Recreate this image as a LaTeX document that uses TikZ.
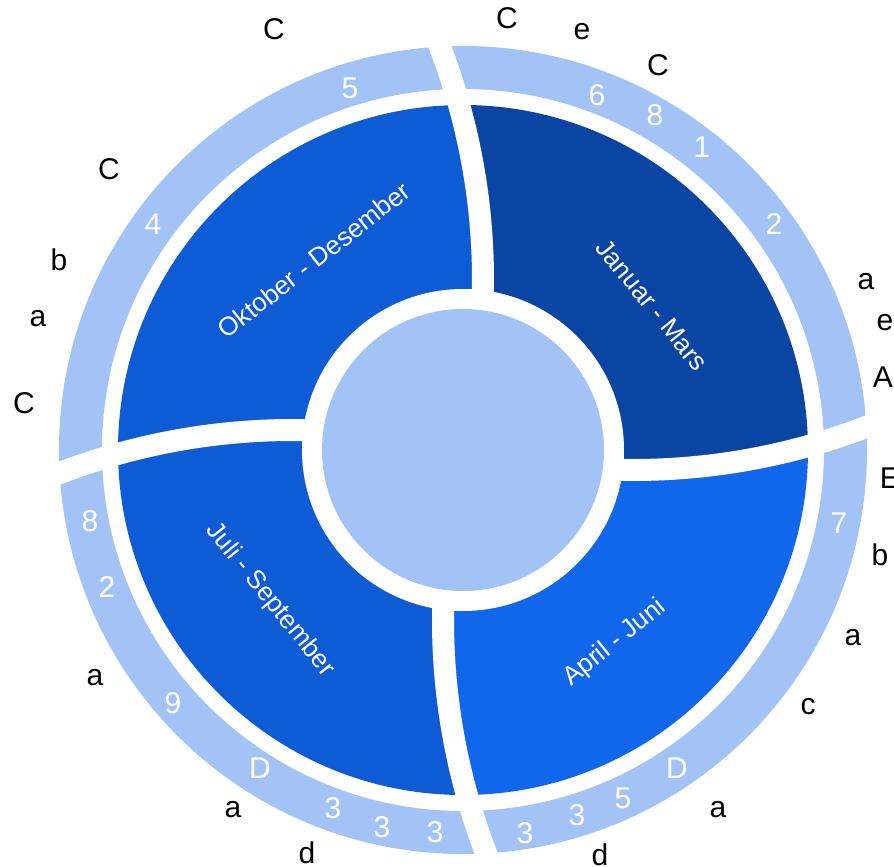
\documentclass[tikz,border=0pt]{standalone}
\usepackage{fontspec}
\setmainfont{Liberation Sans}
\usepackage{xcolor}
\usepackage{tikz}
\definecolor{yrlight}{RGB}{163,195,247}
\definecolor{yrdark}{RGB}{11,69,163}
\definecolor{yrmid}{RGB}{14,91,214}
\definecolor{yrbright}{RGB}{16,103,236}

\begin{document}
\begin{tikzpicture}[
  x=0.5pt,
  y=0.5pt,
  quarterclip/.style={
    insert path={
      (0,0) -- (19.7,150)
      arc[start angle=-1.75, end angle=22.5, radius=653]
      -- (-40,600) -- (600,600) -- (600,40) -- (420,29.8)
      arc[start angle=-67.5, end angle=-91.75, radius=653]
      -- cycle
    }
  },
  gap/.style={
    draw=white,
    line width=11pt
  },
  seclabel/.style={
    text=white,
    font=\fontsize{13}{15}\selectfont,
    inner sep=0pt
  },
  ringnum/.style={
    text=white,
    font=\fontsize{15}{18}\selectfont,
    inner sep=0pt
  },
  outlbl/.style={
    text=black,
    font=\fontsize{15}{18}\selectfont,
    inner sep=0pt
  }
]

\useasboundingbox (-463,-417) rectangle (431,450);

\fill[yrlight, even odd rule] (0,0) circle[radius=404] circle[radius=361];

\begin{scope}
  \clip[quarterclip];
  \fill[yrdark] (0,0) circle[radius=345];
\end{scope}
\begin{scope}[rotate=-90]
  \clip[quarterclip];
  \fill[yrbright] (0,0) circle[radius=345];
\end{scope}
\begin{scope}[rotate=-180]
  \clip[quarterclip];
  \fill[yrmid] (0,0) circle[radius=345];
\end{scope}
\begin{scope}[rotate=-270]
  \clip[quarterclip];
  \fill[yrmid] (0,0) circle[radius=345];
\end{scope}

\draw[gap] (-633,170) ++(-3:653) arc[start angle=-3, end angle=24, radius=653];
\draw[gap, rotate=-90] (-633,170) ++(-3:653) arc[start angle=-3, end angle=24, radius=653];
\draw[gap, rotate=-180] (-633,170) ++(-3:653) arc[start angle=-3, end angle=24, radius=653];
\draw[gap, rotate=-270] (-633,170) ++(-3:653) arc[start angle=-3, end angle=24, radius=653];

\fill[white] (0,0) circle[radius=161];
\node[circle, fill=yrlight, minimum size=141pt, inner sep=0pt] (hub) at (0,0) {};

\node[seclabel, rotate=-51] (jan) at (189,145) {Januar - Mars};
\node[seclabel, rotate=39] (apr) at (152,-193) {April - Juni};
\node[seclabel, rotate=-51] (jul) at (-193,-150) {Juli - September};
\node[seclabel, rotate=38] (okt) at (-149,190) {Oktober - Desember};

\node[ringnum] (n1) at (-113,362) {5};
\node[ringnum] (n2) at (134,355) {6};
\node[ringnum] (n3) at (192,335) {8};
\node[ringnum] (n4) at (239,303) {1};
\node[ringnum] (n5) at (311,226) {2};
\node[ringnum] (n6) at (-310,226) {4};
\node[ringnum] (n7) at (376,-73) {7};
\node[ringnum] (n8) at (-373,-71) {8};
\node[ringnum] (n9) at (-356,-137) {2};
\node[ringnum] (n10) at (-290,-253) {9};
\node[ringnum] (n11) at (-203,-318) {D};
\node[ringnum] (n12) at (-130,-358) {3};
\node[ringnum] (n13) at (-81,-377) {3};
\node[ringnum] (n14) at (-28,-382) {3};
\node[ringnum] (n15) at (62,-383) {3};
\node[ringnum] (n16) at (114,-365) {3};
\node[ringnum] (n17) at (160,-348) {5};
\node[ringnum] (n18) at (214,-318) {D};

\node[outlbl] (o1) at (-189,421) {C};
\node[outlbl] (o2) at (44,432) {C};
\node[outlbl] (o3) at (119,418) {e};
\node[outlbl] (o4) at (195,385) {C};
\node[outlbl] (o5) at (-354,281) {C};
\node[outlbl] (o6) at (-404,190) {b};
\node[outlbl] (o7) at (-425,131) {a};
\node[outlbl] (o8) at (-439,47) {C};
\node[outlbl] (o9) at (403,168) {a};
\node[outlbl] (o10) at (422,127) {e};
\node[outlbl] (o11) at (420,73) {A};
\node[outlbl] (o12) at (427,-28) {E};
\node[outlbl] (o13) at (417,-105) {b};
\node[outlbl] (o14) at (390,-188) {a};
\node[outlbl] (o15) at (345,-257) {c};
\node[outlbl] (o16) at (255,-360) {a};
\node[outlbl] (o17) at (137,-405) {d};
\node[outlbl] (o18) at (-368,-228) {a};
\node[outlbl] (o19) at (-230,-360) {a};
\node[outlbl] (o20) at (-156,-403) {d};

\end{tikzpicture}
\end{document}
